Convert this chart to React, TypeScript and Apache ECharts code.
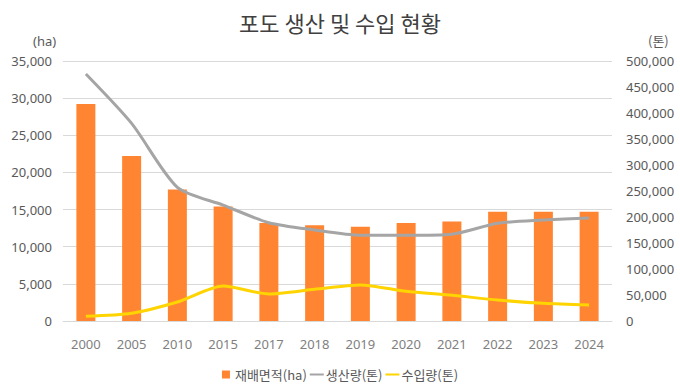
import React, { useEffect, useRef } from "react";
import * as echarts from "echarts";

const categories = ["2000", "2005", "2010", "2015", "2017", "2018", "2019", "2020", "2021", "2022", "2023", "2024"];
const areaHa = [29200, 22200, 17700, 15400, 13200, 12900, 12700, 13200, 13400, 14700, 14700, 14700];
const production = [475000, 380000, 257000, 223000, 189000, 175000, 165000, 165000, 167000, 188000, 194000, 198000];
const imports = [9000, 14800, 36500, 67300, 52000, 61000, 69200, 57000, 49400, 40400, 34000, 30800];

const FONT = "'Noto Sans', 'Noto Sans CJK KR', sans-serif";
const KFONT = "'Noto Sans CJK KR', 'Noto Sans', sans-serif";
const LABEL = "#595959";

export default function App() {
  const ref = useRef<HTMLDivElement>(null);
  useEffect(() => {
    if (!ref.current) return;
    const chart = echarts.init(ref.current, null, { renderer: "svg" });
    chart.setOption({
      animation: false,
      backgroundColor: "#ffffff",
      textStyle: { fontFamily: FONT },
      title: {
        text: "포도 생산 및 수입 현황",
        left: "center",
        top: 6,
        textStyle: { fontFamily: KFONT, fontSize: 22, fontWeight: "normal", color: "#404040" },
      },
      graphic: [
        { type: "text", left: 33, top: 34, style: { text: "(ha)", fill: LABEL, font: `13px ${FONT}` } },
        { type: "text", left: 648, top: 34, style: { text: "(톤)", fill: LABEL, font: `13px ${KFONT}` } },
      ],
      grid: { left: 63, right: 68, top: 61, bottom: 64 },
      legend: {
        bottom: -1,
        left: "center",
        itemGap: 3,
        itemWidth: 14,
        itemHeight: 8,
        textStyle: { color: LABEL, fontSize: 13, fontFamily: KFONT, padding: [0, 0, 0, -3] },
        data: [
          { name: "재배면적(ha)", icon: "path://M0,0 h8 v8 h-8 z" },
          { name: "생산량(톤)", icon: "path://M0,3 h14 v2 h-14 z" },
          { name: "수입량(톤)", icon: "path://M0,3 h14 v2 h-14 z" },
        ],
      },
      xAxis: {
        type: "category",
        data: categories,
        axisLine: { lineStyle: { color: "#d9d9d9" } },
        axisTick: { show: false },
        axisLabel: { color: "#7f7f7f", fontSize: 13, margin: 16, fontFamily: FONT },
      },
      yAxis: [
        {
          type: "value",
          min: 0,
          max: 35000,
          interval: 5000,
          axisLine: { show: false },
          axisTick: { show: false },
          splitLine: { lineStyle: { color: "#d9d9d9" } },
          axisLabel: {
            color: LABEL,
            fontSize: 13,
            margin: 11,
            fontFamily: FONT,
            formatter: (v: number) => v.toLocaleString("en-US"),
          },
        },
        {
          type: "value",
          min: 0,
          max: 500000,
          interval: 50000,
          axisLine: { show: false },
          axisTick: { show: false },
          splitLine: { show: false },
          axisLabel: {
            color: LABEL,
            fontSize: 13,
            margin: 14,
            fontFamily: FONT,
            formatter: (v: number) => v.toLocaleString("en-US"),
          },
        },
      ],
      series: [
        {
          name: "재배면적(ha)",
          type: "bar",
          data: areaHa,
          barWidth: 19,
          itemStyle: { color: "#FF8533" },
        },
        {
          name: "생산량(톤)",
          type: "line",
          yAxisIndex: 1,
          data: production,
          smooth: 0.25,
          symbol: "none",
          lineStyle: { color: "#A5A5A5", width: 3 },
          itemStyle: { color: "#A5A5A5" },
        },
        {
          name: "수입량(톤)",
          type: "line",
          yAxisIndex: 1,
          data: imports,
          smooth: 0.25,
          symbol: "none",
          lineStyle: { color: "#FFD400", width: 3 },
          itemStyle: { color: "#FFD400" },
        },
      ],
    });
    return () => chart.dispose();
  }, []);
  return <div ref={ref} style={{ width: 680, height: 385, position: "absolute", left: 0, top: 0 }} />;
}
